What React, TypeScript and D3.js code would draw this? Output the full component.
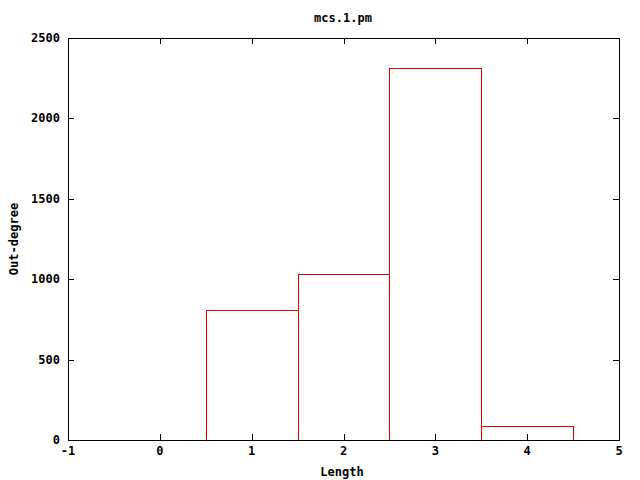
import React, { useEffect, useRef } from 'react';
import * as d3 from 'd3';

const lengths = [1, 2, 3, 4];
const outDegree = [808, 1032, 2311, 89];
const xTicks = [-1, 0, 1, 2, 3, 4, 5];
const yTicks = [0, 500, 1000, 1500, 2000, 2500];

const W = 640;
const H = 480;
const left = 68;
const right = 619;
const top = 38;
const bottom = 440;
const font = '"DejaVu Sans Mono", monospace';

export default function App() {
    const ref = useRef<SVGSVGElement>(null);

    useEffect(() => {
        const svg = d3.select(ref.current);
        svg.selectAll('*').remove();

        const x = d3.scaleLinear().domain([-1, 5]).range([left, right]);
        const y = d3.scaleLinear().domain([0, 2500]).range([bottom, top]);

        svg.append('rect')
            .attr('width', W)
            .attr('height', H)
            .attr('fill', 'white');

        // bars
        svg.selectAll('rect.bar')
            .data(lengths)
            .enter()
            .append('rect')
            .attr('class', 'bar')
            .attr('x', d => Math.round(x(d - 0.5)) + 0.5)
            .attr('y', (d, i) => Math.round(y(outDegree[i])) + 0.5)
            .attr('width', d => Math.round(x(d + 0.5)) - Math.round(x(d - 0.5)))
            .attr('height', (d, i) => bottom - Math.round(y(outDegree[i])))
            .attr('fill', 'none')
            .attr('stroke', '#e00000')
            .attr('stroke-width', 1);

        const tick = 6;
        const g = svg.append('g').attr('stroke', 'black').attr('stroke-width', 1);
        xTicks.forEach(t => {
            const px = Math.round(x(t)) + 0.5;
            g.append('line').attr('x1', px).attr('x2', px).attr('y1', bottom).attr('y2', bottom - tick);
            g.append('line').attr('x1', px).attr('x2', px).attr('y1', top).attr('y2', top + tick);
        });
        yTicks.forEach(t => {
            const py = Math.round(y(t)) + 0.5;
            g.append('line').attr('x1', left).attr('x2', left + tick).attr('y1', py).attr('y2', py);
            g.append('line').attr('x1', right).attr('x2', right - tick).attr('y1', py).attr('y2', py);
        });

        // frame
        svg.append('rect')
            .attr('x', left + 0.5)
            .attr('y', top + 0.5)
            .attr('width', right - left)
            .attr('height', bottom - top)
            .attr('fill', 'none')
            .attr('stroke', 'black')
            .attr('stroke-width', 1);

        const txt = svg.append('g')
            .attr('font-family', font)
            .attr('font-size', 12)
            .attr('font-weight', 'bold')
            .attr('fill', 'black');

        txt.selectAll('text.xt')
            .data(xTicks)
            .enter()
            .append('text')
            .attr('x', d => x(d))
            .attr('y', bottom + 15)
            .attr('text-anchor', 'middle')
            .text(d => d);

        txt.selectAll('text.yt')
            .data(yTicks)
            .enter()
            .append('text')
            .attr('x', left - 8)
            .attr('y', d => y(d) + 4)
            .attr('text-anchor', 'end')
            .text(d => d);

        txt.append('text')
            .attr('x', 343)
            .attr('y', 22)
            .attr('text-anchor', 'middle')
            .text('mcs.1.pm');

        txt.append('text')
            .attr('x', 342)
            .attr('y', 476)
            .attr('text-anchor', 'middle')
            .text('Length');

        txt.append('text')
            .attr('transform', 'translate(18,239) rotate(-90)')
            .attr('text-anchor', 'middle')
            .text('Out-degree');
    }, []);

    return (
        <svg
            ref={ref}
            width={W}
            height={H}
            style={{ position: 'absolute', left: 0, top: 0, display: 'block' }}
        />
    );
}
